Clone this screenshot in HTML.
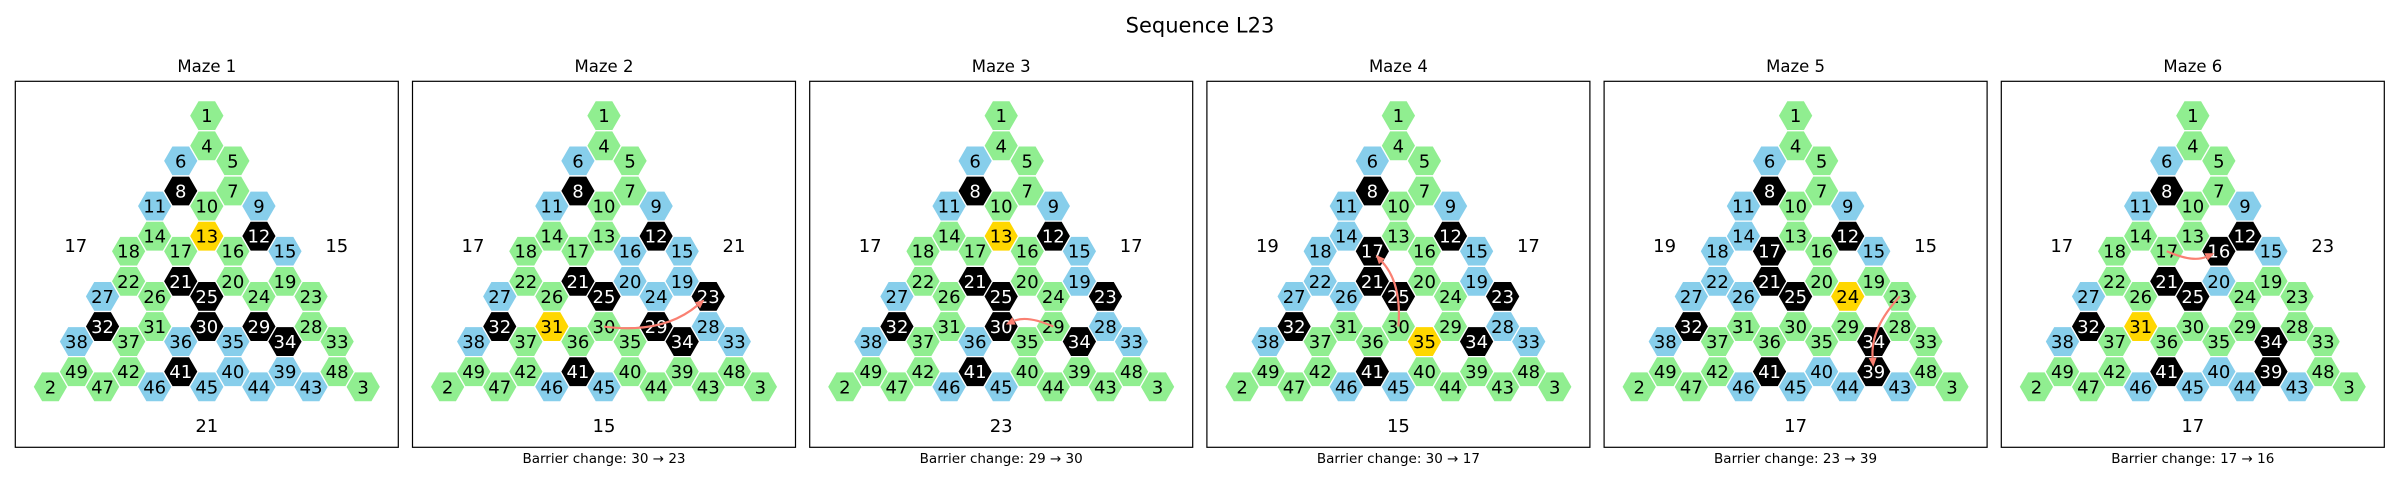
<!DOCTYPE html>
<html><head><meta charset="utf-8">
<style>
html,body{margin:0;padding:0;background:#fff;}
svg{display:block;font-family:"DejaVu Sans","Liberation Sans",sans-serif;}
</style></head>
<body>
<svg id="chart" width="2400" height="480" viewBox="0 0 2400 480" xmlns="http://www.w3.org/2000/svg">
<text x="1200" y="32.5" font-size="21" text-anchor="middle">Sequence L23</text>
</svg>
<script>
const mazeTitles = ["Maze 1","Maze 2","Maze 3","Maze 4","Maze 5","Maze 6"];
const blueNodes = [
  [6,11,9,15,27,38,36,35,40,39,46,45,44,43],
  [6,11,9,16,15,20,19,24,27,28,33,38,46,45],
  [6,11,9,15,19,27,28,33,38,36,46,45],
  [6,11,9,14,18,15,22,19,27,26,28,33,38,46,45],
  [6,11,9,14,18,15,22,26,27,38,40,46,45,44,43],
  [6,11,9,15,20,27,38,40,46,45,44,43]
];
const blackNodes = [
  [8,12,21,25,30,29,32,34,41],
  [8,12,21,25,23,29,32,34,41],
  [8,12,21,25,23,30,32,34,41],
  [8,12,17,21,25,23,32,34,41],
  [8,12,17,21,25,32,34,41,39],
  [8,12,16,21,25,32,34,39,41]
];
const goalNodes = [13,31,13,35,24,31];
const arrowFrom = [null,30,29,30,23,17];
const arrowTo = [null,23,30,17,39,16];
const leftLabels = [17,17,17,19,19,17];
const rightLabels = [15,21,17,17,15,23];
const bottomLabels = [21,15,23,15,17,17];

// grid layout of the triangular hex maze (column, half-row)
const GRID = {1:[0,0],4:[0,2],6:[-1,3],5:[1,3],8:[-1,5],7:[1,5],11:[-2,6],10:[0,6],9:[2,6],
14:[-2,8],13:[0,8],12:[2,8],18:[-3,9],17:[-1,9],16:[1,9],15:[3,9],22:[-3,11],21:[-1,11],20:[1,11],19:[3,11],
27:[-4,12],26:[-2,12],25:[0,12],24:[2,12],23:[4,12],32:[-4,14],31:[-2,14],30:[0,14],29:[2,14],28:[4,14],
38:[-5,15],37:[-3,15],36:[-1,15],35:[1,15],34:[3,15],33:[5,15],49:[-5,17],42:[-3,17],41:[-1,17],40:[1,17],39:[3,17],48:[5,17],
2:[-6,18],47:[-4,18],46:[-2,18],45:[0,18],44:[2,18],43:[4,18],3:[6,18]};

const NS="http://www.w3.org/2000/svg";
const svg=document.getElementById('chart');
function mk(tag,attrs,parent){const e=document.createElementNS(NS,tag);for(const k in attrs)e.setAttribute(k,attrs[k]);(parent||svg).appendChild(e);return e;}
const PANEL0=15.3, PSTEP=397.2, PW=383, PTOP=81.3, PH=366;
const CSTEP=26.06, RSTEP=15.06, TOPY=115.7, R=17.4;
function hx(i,c){return PANEL0+i*PSTEP+PW/2+c*CSTEP;}
function hy(r){return TOPY+r*RSTEP;}

mazeTitles.forEach((title,i)=>{
  const g=mk('g',{});
  
  
  const left=PANEL0+i*PSTEP, cx=left+PW/2;
  const fr=mk('rect',{x:left,y:PTOP,width:PW,height:PH,fill:'none',stroke:'#000','stroke-width':1.2},g);
  
  
  const t=mk('text',{x:cx,y:72,'font-size':16.5,'text-anchor':'middle'},g);
  t.textContent=title;
  
  
  // hexes
  Object.keys(GRID).forEach(k=>{
    const n=+k, [c,r]=GRID[k];
    const x=hx(i,c), y=hy(r);
    let fill='#90EE90', tc='#000';
    if(blueNodes[i].includes(n)) fill='#87CEEB';
    if(blackNodes[i].includes(n)){fill='#000';tc='#fff';}
    if(goalNodes[i]===n) fill='#FFD700';
    let pts=[];
    for(let a=0;a<6;a++){const ang=Math.PI/3*a;pts.push((x+R*Math.cos(ang)).toFixed(2)+','+(y+R*Math.sin(ang)).toFixed(2));}
    const p=mk('polygon',{points:pts.join(' '),fill:fill,stroke:'#fff','stroke-width':1.3},g);
    
    
    const tx=mk('text',{x:x,y:y+6.5,'font-size':18,'text-anchor':'middle',fill:tc},g);
    tx.textContent=n;
    
    
  });
  // side labels
  const sl=[[cx-131,252,leftLabels[i],'left-side-label'],[cx+130,252,rightLabels[i],'right-side-label'],[cx,432,bottomLabels[i],'bottom-side-label']];
  sl.forEach(s=>{
    const e=mk('text',{x:s[0],y:s[1],'font-size':18,'text-anchor':'middle'},g);
    e.textContent=s[2];
    
    
  });
  // arrow
  if(arrowFrom[i]!==null){
    const a=GRID[arrowFrom[i]], b=GRID[arrowTo[i]];
    const x1=hx(i,a[0]),y1=hy(a[1]),x2=hx(i,b[0]),y2=hy(b[1]);
    const dx=x2-x1, dy=y2-y1, rad=0.22;
    const qx=(x1+x2)/2-rad*dy, qy=(y1+y2)/2+rad*dx;
    // shrink end
    let ex=x2-qx, ey=y2-qy; const L=Math.hypot(ex,ey); ex/=L; ey/=L;
    const tipx=x2-ex*5, tipy=y2-ey*5;
    const bx=tipx-ex*9, by=tipy-ey*9;
    const path=mk('path',{d:`M${x1},${y1} Q${qx},${qy} ${bx},${by}`,fill:'none',stroke:'#FA8072','stroke-width':2.2},g);
    
    
    const nx=-ey, ny=ex;
    const head=mk('polygon',{points:`${tipx},${tipy} ${bx+nx*4},${by+ny*4} ${bx-nx*4},${by-ny*4}`,fill:'#FA8072'},g);
    
    
    const cap=mk('text',{x:cx,y:463,'font-size':13.5,'text-anchor':'middle'},g);
    cap.textContent='Barrier change: '+arrowFrom[i]+' \u2192 '+arrowTo[i];
    
    
  }
});
</script>
</body></html>
